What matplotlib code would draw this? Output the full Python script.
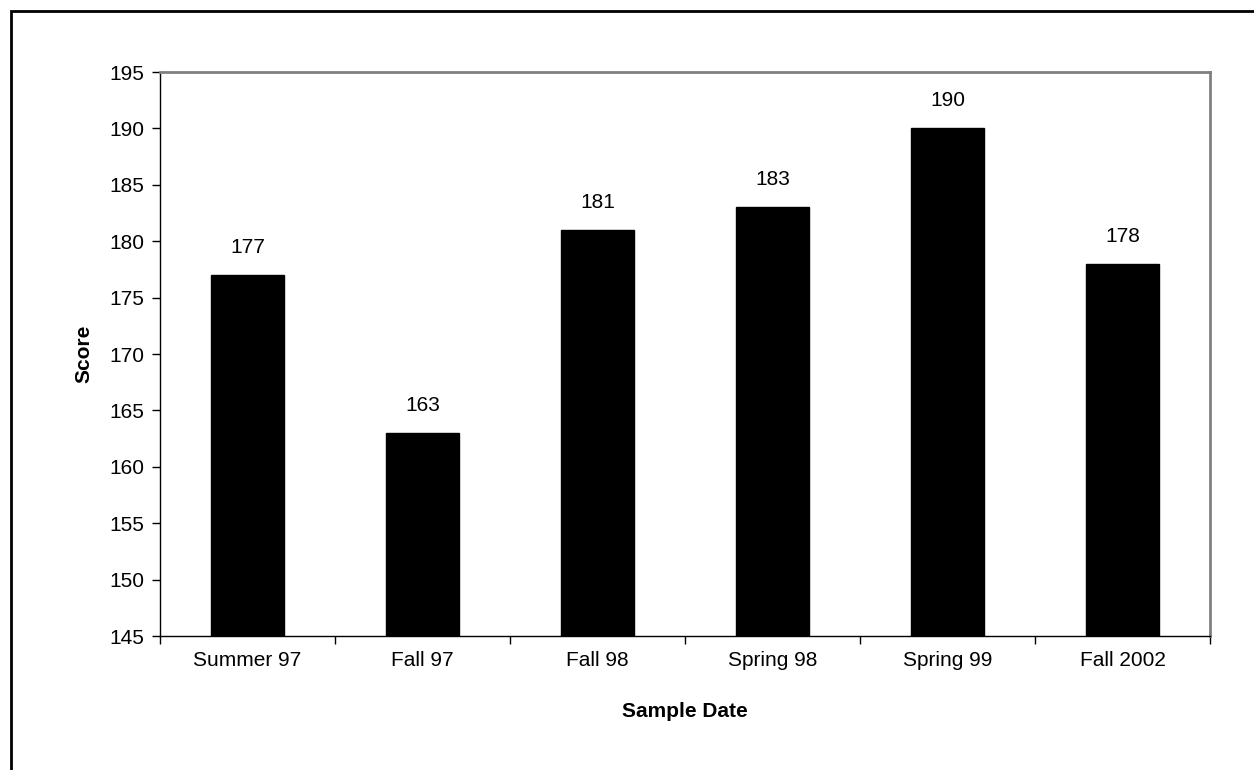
import matplotlib.pyplot as plt
from matplotlib.patches import Rectangle

dates = ["Summer 97", "Fall 97", "Fall 98", "Spring 98", "Spring 99", "Fall 2002"]
scores = [177, 163, 181, 183, 190, 178]

plt.rcParams["font.family"] = ["Liberation Sans", "DejaVu Sans"]

fig = plt.figure(figsize=(12.54, 7.70), dpi=100)
ax = fig.add_axes([160 / 1254, 1 - 636 / 770, 1050 / 1254, 564 / 770])

x = range(len(dates))
ax.bar(x, [s - 145 for s in scores], bottom=145, width=0.42,
       color="black", edgecolor="black")
for i, s in zip(x, scores):
    ax.text(i, s + 1.6, str(s), ha="center", va="bottom", fontsize=15)

ax.set_xlim(-0.5, len(dates) - 0.5)
ax.set_ylim(145, 195)
ax.set_yticks(range(145, 196, 5))
ax.set_xticks(x)
ax.set_xticklabels(dates, fontsize=15)
ax.set_xticks([i + 0.5 for i in range(-1, len(dates))], minor=True)
ax.tick_params(axis="x", which="major", length=0, pad=11)
ax.tick_params(axis="x", which="minor", length=6, width=1, direction="out")
ax.tick_params(axis="y", length=6, width=1, labelsize=15, pad=5)

for side in ["top", "right"]:
    ax.spines[side].set_color("#808080")
    ax.spines[side].set_linewidth(2)
for side in ["left", "bottom"]:
    ax.spines[side].set_color("black")
    ax.spines[side].set_linewidth(1)

ax.set_ylabel("Score", fontsize=15, fontweight="bold", labelpad=12)
ax.set_xlabel("Sample Date", fontsize=15, fontweight="bold", labelpad=23)

# outer chart border (cut off at right and bottom)
fig.patches.append(Rectangle((11 / 1254, -0.1), 1.2, 1 - 11 / 770 + 0.1,
                             transform=fig.transFigure, fill=False,
                             edgecolor="black", linewidth=2))

fig.savefig("out.png", dpi=100)
